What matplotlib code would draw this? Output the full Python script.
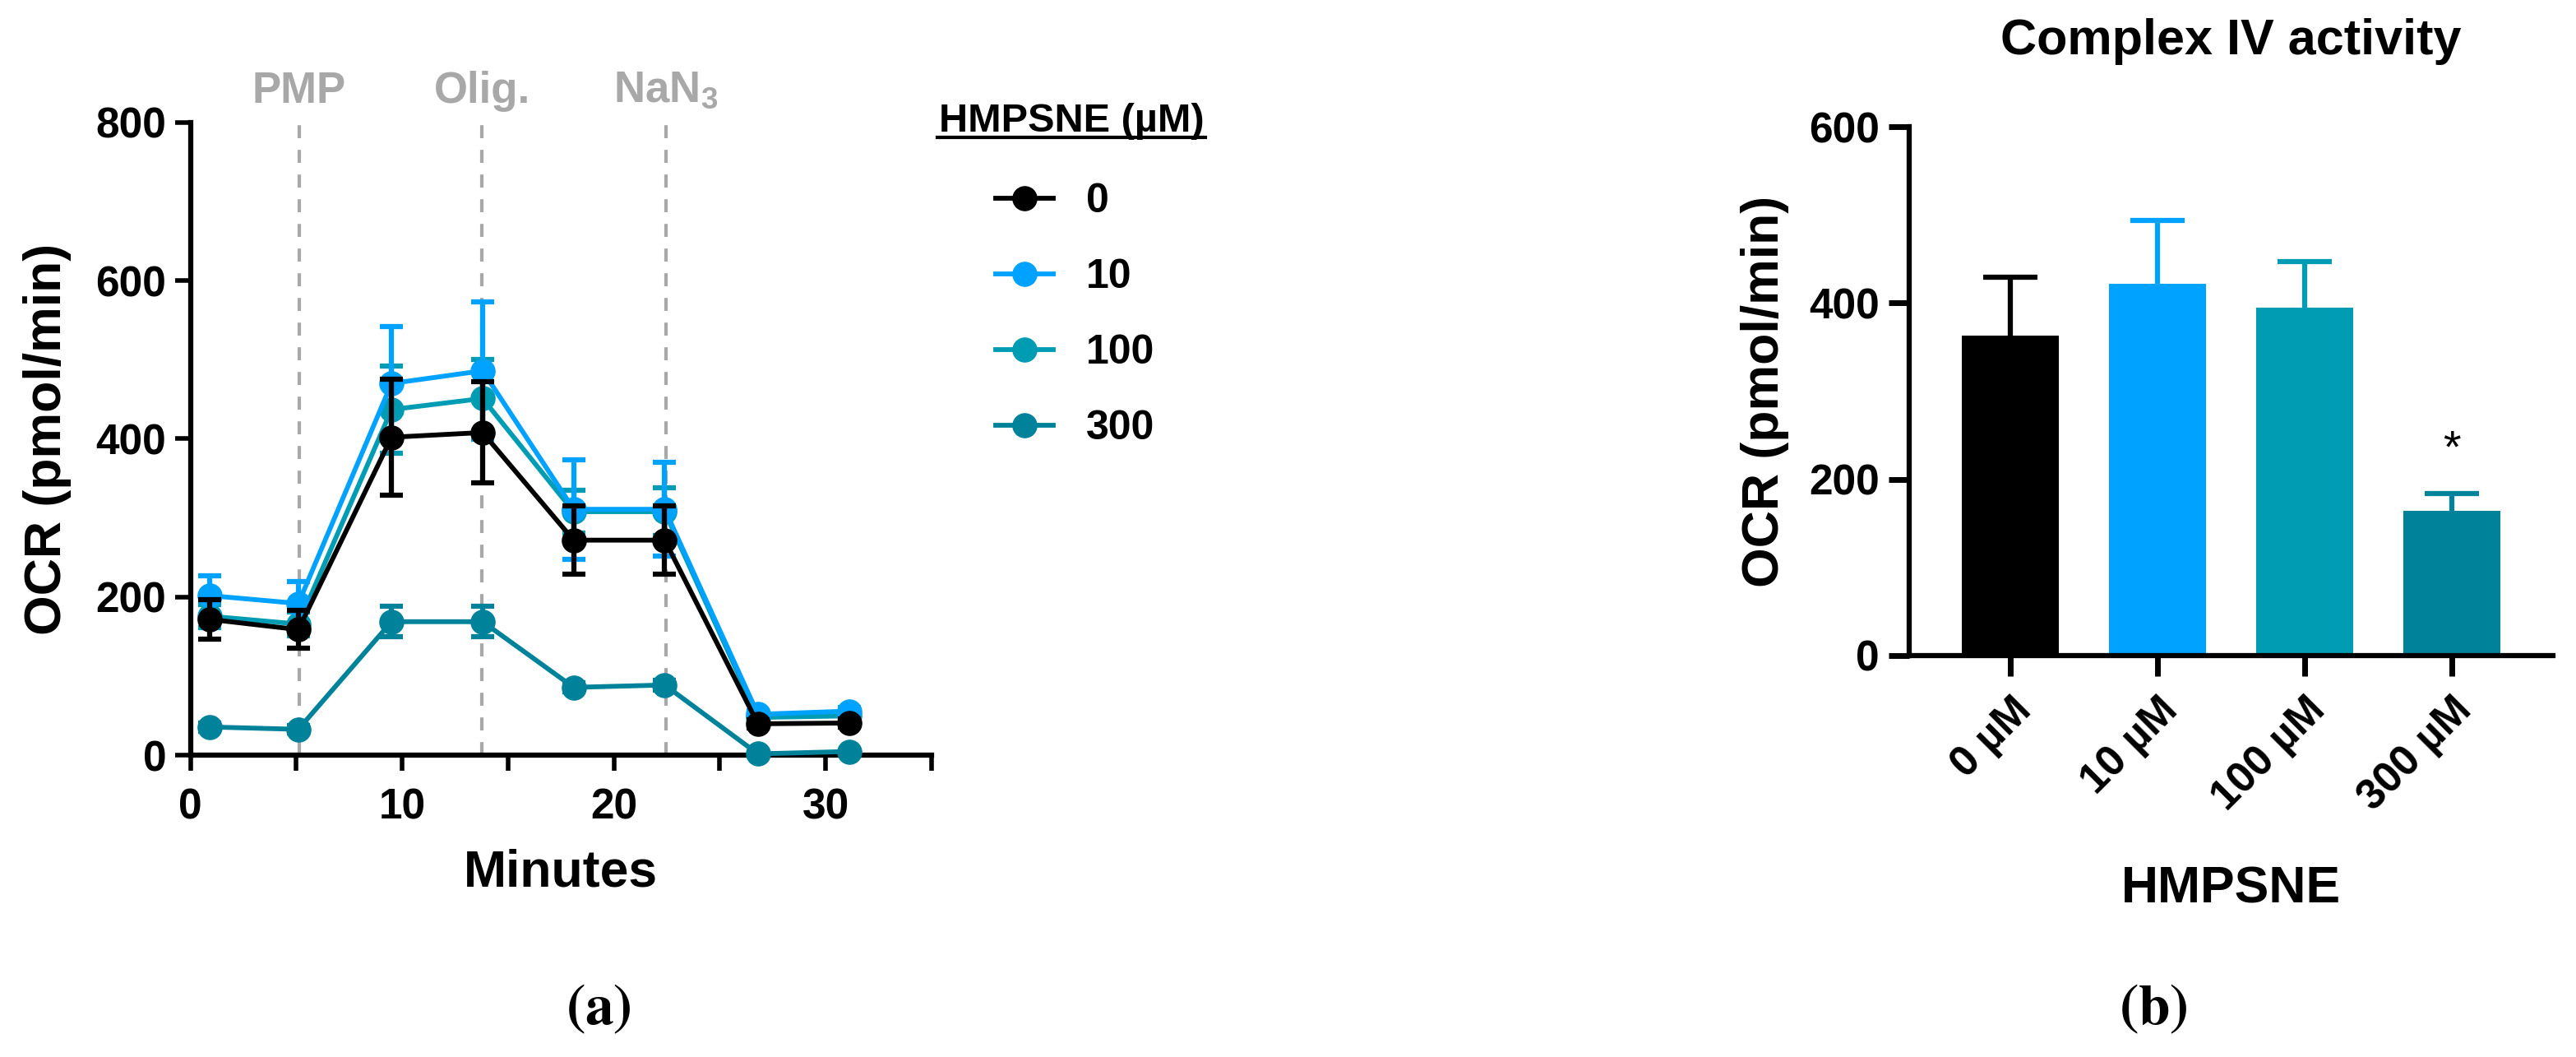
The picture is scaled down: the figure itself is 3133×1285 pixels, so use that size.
import matplotlib
matplotlib.use('Agg')
import matplotlib.pyplot as plt
from matplotlib.lines import Line2D

plt.rcParams['font.family'] = ['Liberation Sans', 'DejaVu Sans']
plt.rcParams['font.weight'] = 'bold'
plt.rcParams['mathtext.fontset'] = 'custom'
plt.rcParams['mathtext.rm'] = 'Liberation Sans:bold'
plt.rcParams['mathtext.bf'] = 'Liberation Sans:bold'

# ---------------- data ----------------
minutes = [0.9, 5.1, 9.5, 13.8, 18.1, 22.4, 26.8, 31.1]
ocr_0 = [172, 159, 402, 408, 272, 272, 40, 41]
err_0 = [25, 24, 73, 64, 43, 43, 5, 5]
ocr_10 = [202, 192, 470, 486, 311, 311, 52, 56]
err_10 = [25, 28, 72, 87, 63, 59, 5, 5]
ocr_100 = [176, 166, 437, 451, 308, 308, 48, 50]
err_100 = [15, 15, 55, 49, 27, 30, 5, 5]
ocr_300 = [36, 33, 169, 169, 86, 89, 2, 5]
err_300 = [5, 5, 19, 19, 6, 6, 2, 2]
series_labels = ['0', '10', '100', '300']

injection_times = [5.13, 13.78, 22.45]
injection_labels = ['PMP', 'Olig.', r'NaN$_{\mathbf{3}}$']

bar_labels = ['0 µM', '10 µM', '100 µM', '300 µM']
bar_means = [363, 422, 395, 164]
bar_err = [66, 72, 52, 20]

colors = ['#000000', '#00A2FF', '#009CB4', '#00829A']

W, H = 3133, 1285
fig = plt.figure(figsize=(W / 100, H / 100), dpi=100)

def fx(px):
    return px / W

def fy(py):
    return 1 - py / H

# ---------------- panel (a) ----------------
ax1 = fig.add_axes([fx(231.5), fy(918.4), fx(1133 - 231.5), (918.4 - 148.6) / H])
for x, lab in zip(injection_times, injection_labels):
    ax1.axvline(x, color='#A8A8A8', lw=3.0, ls=(0, (3.8, 3.4)), zorder=1)
    ax1.text(x, 1.031, lab, transform=ax1.get_xaxis_transform(), ha='center',
             va='baseline', fontsize=38, color='#A8A8A8', fontweight='bold')

all_vals = [ocr_0, ocr_10, ocr_100, ocr_300]
all_errs = [err_0, err_10, err_100, err_300]
handles = [None] * 4
for i in [3, 2, 1, 0]:
    c = ax1.errorbar(minutes, all_vals[i], yerr=all_errs[i], fmt='o-', color=colors[i],
                     lw=4.2, ms=21, elinewidth=4.5, capsize=10, capthick=4.5,
                     zorder=5 - i + 2)
    c[0].set_clip_on(False)
    handles[i] = c[0]

ax1.set_xlim(0, 35)
ax1.set_ylim(0, 800)
ax1.set_yticks([0, 200, 400, 600, 800])
ax1.set_xticks([0, 5, 10, 15, 20, 25, 30, 35])
ax1.set_xticklabels(['0', '', '10', '', '20', '', '30', ''])
for s in ['top', 'right']:
    ax1.spines[s].set_visible(False)
for s in ['left', 'bottom']:
    ax1.spines[s].set_linewidth(4.5)
ax1.tick_params(axis='both', length=14, width=4, labelsize=37)
ax1.tick_params(axis='x', pad=14)
ax1.tick_params(axis='y', pad=7)
ax1.set_xlabel('Minutes', fontsize=45, fontweight='bold', va='baseline')
ax1.xaxis.set_label_coords(0.5, (918.4 - 1078) / 769.8)
ax1.set_ylabel('OCR (pmol/min)', fontsize=45, fontweight='bold', va='baseline')
ax1.yaxis.set_label_coords((73.7 - 231.5) / 901.5, 0.5)

leg = ax1.legend(handles, series_labels, loc='upper left',
                 bbox_to_anchor=(fx(1211), fy(222)), bbox_transform=fig.transFigure,
                 frameon=False, borderpad=0, borderaxespad=0, handlelength=1.4,
                 handletextpad=0.8, labelspacing=0.92, fontsize=36)
for t in leg.get_texts():
    t.set_fontweight('bold')
fig.text(fx(1303), fy(160), 'HMPSNE (µM)', ha='center', va='baseline',
         fontsize=35, fontweight='bold')
fig.add_artist(Line2D([fx(1140), fx(1466)], [fy(167), fy(167)], color='black', lw=3))

fig.text(fx(728), fy(1245), r'$(\mathbf{a})$', ha='center', va='baseline',
         fontsize=50, math_fontfamily='stix')

# ---------------- panel (b) ----------------
ax2 = fig.add_axes([fx(2322), fy(797), fx(3105 - 2322), (797 - 154) / H])
xpos = list(range(len(bar_labels)))
for i in xpos:
    ax2.bar(xpos[i], bar_means[i], width=0.66, color=colors[i], zorder=2)
    c = ax2.errorbar(xpos[i], bar_means[i], yerr=[[0], [bar_err[i]]], fmt='none',
                     ecolor=colors[i], elinewidth=4.5, capsize=24, capthick=4.5, zorder=1)
    c[1][0].set_visible(False)
ax2.text(3, 233, '*', ha='center', va='center', fontsize=40, fontweight='normal')
ax2.set_xlim(-0.69, 3.69)
ax2.set_ylim(0, 600)
ax2.set_yticks([0, 200, 400, 600])
ax2.set_xticks(xpos)
ax2.set_xticklabels(bar_labels, rotation=45, ha='right', rotation_mode='anchor')
for s in ['top', 'right']:
    ax2.spines[s].set_visible(False)
for s in ['left', 'bottom']:
    ax2.spines[s].set_linewidth(4.5)
ax2.tick_params(axis='both', length=18, width=5, labelsize=37)
ax2.tick_params(axis='y', pad=8)
ax2.tick_params(axis='x', pad=12)
ax2.set_xlabel('HMPSNE', fontsize=45, fontweight='bold', va='baseline')
ax2.xaxis.set_label_coords(0.5, (797 - 1098) / 643)
ax2.set_ylabel('OCR (pmol/min)', fontsize=45, fontweight='bold', va='baseline')
ax2.yaxis.set_label_coords((2163.5 - 2322) / 783, 0.5)
ax2.text(0.5, (797 - 66) / 643, 'Complex IV activity', transform=ax2.transAxes,
         ha='center', va='baseline', fontsize=44, fontweight='bold')

fig.text(fx(2619), fy(1245), r'$(\mathbf{b})$', ha='center', va='baseline',
         fontsize=50, math_fontfamily='stix')

fig.savefig('out.png', dpi=100, facecolor='white')
